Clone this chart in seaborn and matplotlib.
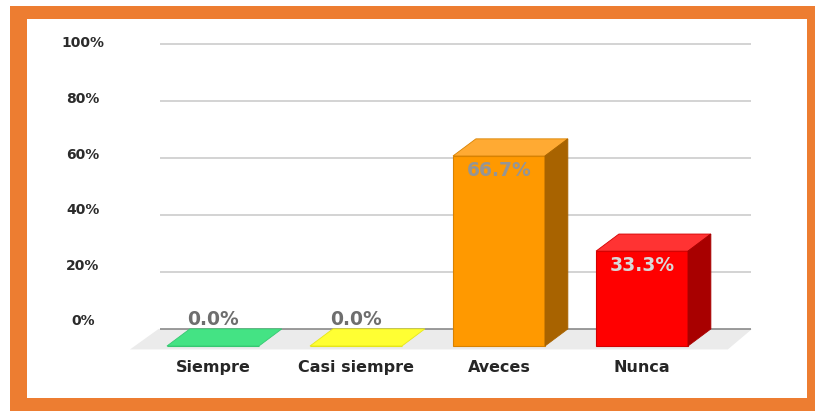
import matplotlib
matplotlib.use("Agg")
import matplotlib.pyplot as plt
from matplotlib.patches import Polygon, Rectangle
import seaborn as sns

sns.set_style("white")
plt.rcParams['font.family'] = ['DejaVu Sans']

categories = ["Siempre", "Casi siempre", "Aveces", "Nunca"]
values = [0.0, 0.0, 66.7, 33.3]
front_colors = ["#44e384", "#ffff33", "#ff9900", "#ff0000"]
top_colors = ["#44e384", "#ffff33", "#ffaa33", "#ff3333"]
side_colors = ["#2fb866", "#d6d600", "#a86300", "#a80000"]
edge_colors = ["#36c872", "#e6e61a", "#d98200", "#d40000"]
label_colors = ["#6e6e6e", "#6e6e6e", "#959595", "#d8d8d8"]
grid_values = [0, 20, 40, 60, 80, 100]
grid_labels = ["0%", "20%", "40%", "60%", "80%", "100%"]

# depth of the fake 3D effect, in data units
dx, dy = 0.16, 6.0

fig = plt.figure(figsize=(8.15, 4.11), dpi=100)
W, H = 815, 411

# orange frame
fig.patches.append(Rectangle((10 / W, 0), 1, (H - 6) / H, transform=fig.transFigure,
                             facecolor="#ed7d31", edgecolor="none", zorder=-10))
fig.patches.append(Rectangle((27 / W, (H - 398) / H), (807 - 27) / W, (398 - 19) / H,
                             transform=fig.transFigure, facecolor="white",
                             edgecolor="none", zorder=-9))

ax = fig.add_axes([130 / W, (H - 350) / H, (760 - 130) / W, (350 - 30) / H])
ax.set_facecolor("none")

sns.barplot(x=categories, y=values, hue=categories, palette=front_colors,
            width=0.643, legend=False, ax=ax, zorder=3, saturation=1)

ax.set_xlim(-0.58, 3.825)
ax.set_ylim(-1.4, 110.9)

# floor
ax.add_patch(Polygon([(-0.58, -1.2), (-0.58 + dx + 0.04, dy), (3.77, dy), (3.6, -1.2)],
                     closed=True, facecolor="#ebebeb", edgecolor="none", zorder=1))

# back wall grid lines
for v in grid_values:
    col = "#808080" if v == 0 else "#c8c8c8"
    ax.hlines(v + dy, -0.37, 3.76, colors=col, lw=1.1, zorder=1.5)

for i, p in enumerate(ax.patches[:len(categories)]):
    x, w, h = p.get_x(), p.get_width(), p.get_height()
    p.set_edgecolor(edge_colors[i])
    p.set_linewidth(0.8)
    top = [(x, h), (x + dx, h + dy), (x + w + dx, h + dy), (x + w, h)]
    ax.add_patch(Polygon(top, closed=True, facecolor=top_colors[i],
                         edgecolor=edge_colors[i], lw=0.6, zorder=3))
    if h > 0:
        side = [(x + w, 0), (x + w + dx, dy), (x + w + dx, h + dy), (x + w, h)]
        ax.add_patch(Polygon(side, closed=True, facecolor=side_colors[i],
                             edgecolor=side_colors[i], lw=0.6, zorder=3))
        ty = h - 5
    else:
        ty = dy + 3.2
    ax.text(x + w / 2, ty, f"{values[i]:.1f}%", ha="center", va="center",
            fontsize=13.5, fontweight="bold", color=label_colors[i], zorder=4)

# the axis labels sit a little above their grid lines, more so near the floor
ax.set_yticks([v * 0.975 + 9.2 for v in grid_values])
ax.set_yticklabels(grid_labels, fontsize=10, fontweight="bold", color="#2b2b2b")
for lab in ax.get_yticklabels():
    lab.set_horizontalalignment("center")
ax.tick_params(axis="y", length=0, pad=34)

ax.set_xticks(range(len(categories)))
ax.set_xticklabels(categories, fontsize=11.5, fontweight="bold", color="#262626")
ax.tick_params(axis="x", length=0, pad=7.5)

sns.despine(ax=ax, left=True, bottom=True)
ax.set_xlabel("")
ax.set_ylabel("")

fig.savefig("out.png", dpi=100)
